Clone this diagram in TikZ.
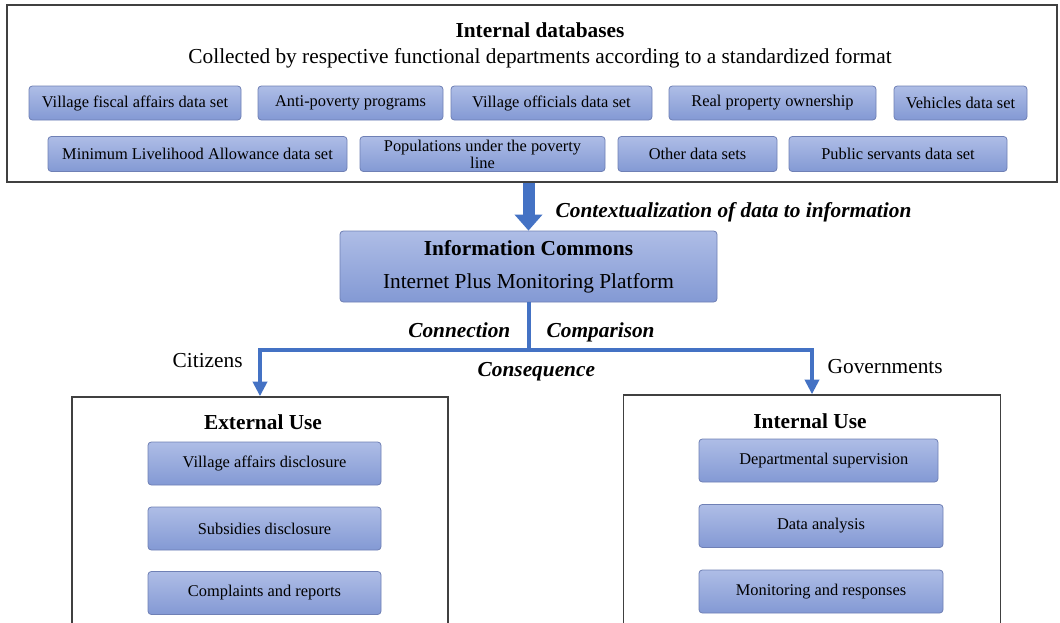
\documentclass[tikz,border=0pt]{standalone}
\usepackage{fontspec}
\setmainfont{Liberation Serif}
\usetikzlibrary{arrows.meta}

\definecolor{flowblue}{HTML}{4472C4}
\definecolor{itemtop}{HTML}{AEBDE6}
\definecolor{itembot}{HTML}{8399D4}
\definecolor{itemline}{HTML}{6F80B5}
\newcommand{\bigtext}{\fontsize{16}{19}\selectfont}
\newcommand{\boxtext}{\fontsize{12.3}{12.8}\selectfont}

\begin{document}
\begin{tikzpicture}[x=0.75pt, y=-0.75pt,
    frame/.style={draw=black!75, line width=1.1pt, inner sep=0pt},
    item/.style={draw=itemline, line width=0.6pt, rounded corners=2.5pt,
      top color=itemtop, bottom color=itembot, font=\boxtext, inner sep=0pt},
    heading/.style={font=\bigtext\bfseries, anchor=base},
    cue/.style={font=\bigtext\bfseries\itshape, anchor=base west},
    plain/.style={font=\bigtext, anchor=base west},
    flow/.style={draw=flowblue, line width=3pt},
  ]
    \clip (0,0) rectangle (1060,622);
    \fill[white] (0,0) rectangle (1060,622);

    \node[frame, minimum width=787.5pt, minimum height=132.75pt] (db) at (532,93.5) {};
    \node[heading] (dbtitle) at (540,37) {Internal databases};
    \node[font=\bigtext, anchor=base] (dbnote) at (540,63)
      {Collected by respective functional departments according to a standardized format};

    \node[item, minimum width=159pt, minimum height=25.5pt] (fiscal) at (135,103) {Village fiscal affairs data set};
    \node[item, minimum width=138.75pt, minimum height=25.5pt] (antipoverty) at (350.5,103) {Anti-poverty programs};
    \node[item, minimum width=150.75pt, minimum height=25.5pt] (officials) at (551.5,103) {Village officials data set};
    \node[item, minimum width=155.25pt, minimum height=25.5pt] (property) at (772.5,103) {Real property ownership};
    \node[item, minimum width=99.75pt, minimum height=25.5pt] (vehicles) at (960.5,103) {Vehicles data set};

    \node[item, minimum width=224.25pt, minimum height=26.25pt] (allowance) at (197.5,154) {Minimum Livelihood Allowance data set};
    \node[item, minimum width=183.75pt, minimum height=26.25pt, align=center] (poverty) at (482.5,154) {Populations under the poverty\\line};
    \node[item, minimum width=119.25pt, minimum height=26.25pt] (other) at (697.5,154) {Other data sets};
    \node[item, minimum width=163.5pt, minimum height=26.25pt] (servants) at (898,154) {Public servants data set};

    \node[item, minimum width=282.75pt, minimum height=53.25pt, align=center,
      font=\fontsize{16}{24.75}\selectfont] (commons) at (528.5,266.5)
      {\textbf{Information Commons}\\Internet Plus Monitoring Platform};

    \draw[flowblue, line width=9pt, -{Triangle[width=20.25pt,length=12pt]}]
      (commons.north |- db.south) -- (commons.north);
    \node[cue] (context) at (551,217) {Contextualization of data to information};

    \node[frame, minimum width=282pt, minimum height=197.25pt] (external) at (260,528.5) {};
    \node[frame, minimum width=282.75pt, minimum height=198.75pt] (internal) at (812,527.5) {};

    \draw[flow] (commons.south) -- (commons.south |- 0,350) coordinate (split);
    \draw[flow, -{Triangle[width=10.5pt,length=11pt]}] (split) -| (external.north);
    \draw[flow, -{Triangle[width=10.5pt,length=11pt]}] (split) -| (internal.north);

    \node[cue, anchor=base east] (connection) at (515,337) {Connection};
    \node[cue] (comparison) at (542,337) {Comparison};
    \node[cue] (consequence) at (473,376) {Consequence};
    \node[plain] (citizens) at (168,367) {Citizens};
    \node[plain] (governments) at (823,373) {Governments};

    \node[heading] (exttitle) at (263,429) {External Use};
    \node[item, minimum width=174.75pt, minimum height=32.25pt] (disclosure) at (264.5,463.5) {Village affairs disclosure};
    \node[item, minimum width=174.75pt, minimum height=32.25pt] (subsidies) at (264.5,528.5) {Subsidies disclosure};
    \node[item, minimum width=174.75pt, minimum height=32.25pt] (complaints) at (264.5,593) {Complaints and reports};

    \node[heading] (inttitle) at (810,428) {Internal Use};
    \node[item, minimum width=179.25pt, minimum height=32.25pt] (supervision) at (818.5,460.5) {\hspace{8pt}Departmental supervision};
    \node[item, minimum width=183pt, minimum height=32.25pt] (analysis) at (821,526) {Data analysis};
    \node[item, minimum width=183pt, minimum height=32.25pt] (monitoring) at (821,591.5) {Monitoring and responses};
\end{tikzpicture}
\end{document}
